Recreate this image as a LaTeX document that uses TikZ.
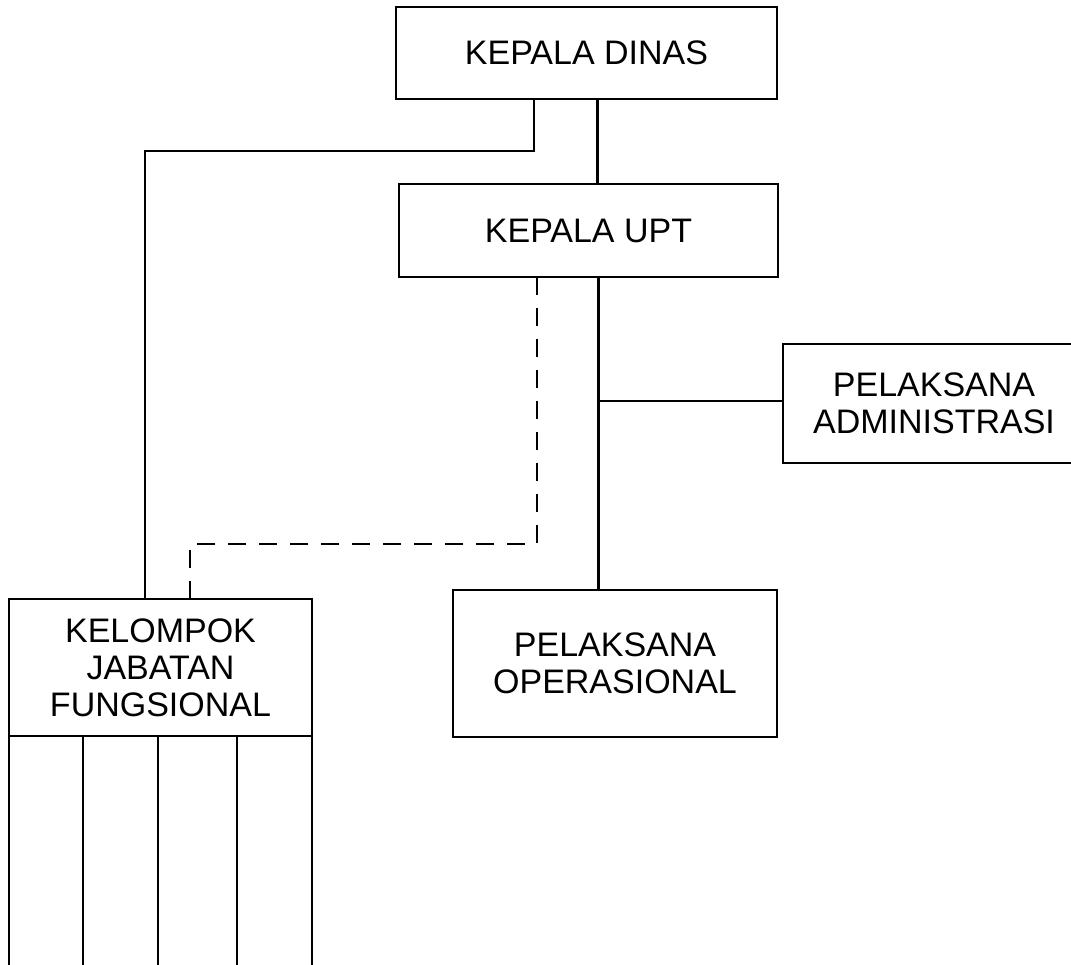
\documentclass[tikz,border=0pt]{standalone}
\usepackage{fontspec}
\setmainfont{Liberation Sans}

\begin{document}
\begin{tikzpicture}[x=1pt,y=-1pt]
	\tikzstyle{kotak}=[draw, line width=2.9pt, inner sep=0pt, outer sep=0pt, align=center, font=\fontsize{34}{37}\selectfont]
	\tikzstyle{garis}=[line width=2.9pt]
	\tikzstyle{putus}=[line width=2.9pt, dash pattern=on 18pt off 13pt]

	\path[use as bounding box, clip] (0,0) rectangle (1071,965);

	\node[kotak, minimum width=381pt, minimum height=92pt] (kd) at (586.5,53) {KEPALA DINAS};
	\node[kotak, minimum width=379pt, minimum height=93pt] (upt) at (588.5,230.5) {KEPALA UPT};
	\node[kotak, minimum width=302pt, minimum height=119pt] (pa) at (934,403.5) {PELAKSANA\\ADMINISTRASI};
	\node[kotak, minimum width=324pt, minimum height=147pt] (po) at (615,663.5) {PELAKSANA\\OPERASIONAL};
	\node[kotak, minimum width=303pt, minimum height=137pt] (kjf) at (160.5,667.5) {KELOMPOK\\JABATAN\\FUNGSIONAL};

	\coordinate (belok) at (145,151);
	\coordinate (cabang) at (598.5,401);
	\coordinate (belokputus) at (190,544);

	\draw[garis] ([xshift=-52.5pt]kd.south) |- (belok) -- (belok |- kjf.north);
	\draw[garis] ([xshift=11pt]kd.south) -- ([xshift=11pt]kd.south |- upt.north);
	\draw[garis] ([xshift=10pt]upt.south) -- ([xshift=10pt]upt.south |- po.north);
	\draw[garis] (cabang) -- (cabang -| pa.west);
	\draw[putus] ([xshift=-51.5pt]upt.south) |- (belokputus) -- ([yshift=-11pt]belokputus |- kjf.north);

	\draw[garis] (kjf.south west) -- ++(0,240);
	\draw[garis] (kjf.south east) -- ++(0,240);
	\foreach \kolom in {83,158,237}
	        \draw[garis] (\kolom,736) -- (\kolom,976);
\end{tikzpicture}
\end{document}
